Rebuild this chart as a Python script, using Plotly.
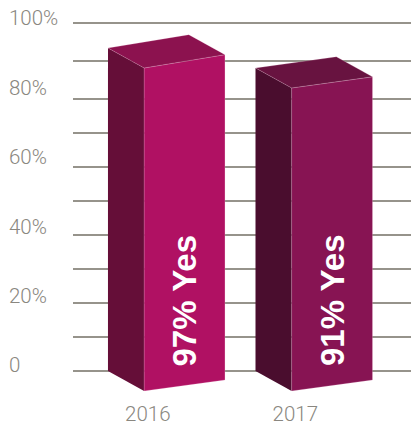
import plotly.graph_objects as go

# Survey results
years = ["2016", "2017"]
yes_share = [97, 91]
bar_labels = ["97% Yes", "91% Yes"]

# Value-axis labels and where they sit on the scale
axis_labels = ["0", "20%", "40%", "60%", "80%", "100%"]
axis_label_levels = [1.8, 22.5, 43.2, 64.2, 84.9, 105.9]

# Rule positions on the value scale
rule_levels = [0, 10.2, 20.4, 30.6, 40.8, 51.0, 61.2, 71.4, 81.6, 93.0, 104.5]

# Face colours per bar
front_colors = ["#b01163", "#871453"]
side_colors = ["#650e38", "#4a0d2e"]
top_colors = ["#8c124f", "#681340"]

GREY_TEXT = "#8a8780"
RULE = "#96938b"
EDGE = "rgba(255,215,235,0.35)"

# Box proportions, in axis units
DEPTH_X = 0.245
FRONT_W = 0.548
DEPTH_Y = 6.0
BASE_RISE = 3.3
TOP_RISE = [4.0, 3.35]


def face(xs, ys, color, edge=None):
    return go.Scatter(
        x=xs, y=ys, mode="lines", fill="toself", fillcolor=color,
        line=dict(color=edge or color, width=0.6 if edge else 0),
        hoverinfo="skip", showlegend=False,
    )


fig = go.Figure()
for i, value in enumerate(yes_share):
    left, near, right = i, i + DEPTH_X, i + DEPTH_X + FRONT_W
    rise = TOP_RISE[i]
    # side wall
    fig.add_trace(face(
        [left, near, near, left, left],
        [0, -DEPTH_Y, value - DEPTH_Y, value, 0],
        side_colors[i],
    ))
    # front wall
    fig.add_trace(face(
        [near, right, right, near, near],
        [-DEPTH_Y, -DEPTH_Y + BASE_RISE, value - DEPTH_Y + rise, value - DEPTH_Y, -DEPTH_Y],
        front_colors[i], EDGE,
    ))
    # lid
    fig.add_trace(face(
        [left, left + FRONT_W, right, near, left],
        [value, value + rise, value - DEPTH_Y + rise, value - DEPTH_Y, value],
        top_colors[i], EDGE,
    ))

annotations = [
    dict(
        x=i + 0.518, y=21.3, xref="x", yref="y", text=f"<b>{label}</b>",
        textangle=-90, showarrow=False, borderpad=0,
        font=dict(family="Liberation Sans", size=33, color="white"),
    )
    for i, label in enumerate(bar_labels)
]
annotations += [
    dict(
        x=-0.192, y=level, xref="paper", yref="y", text=label,
        xanchor="left", yanchor="middle", showarrow=False, borderpad=0,
        font=dict(family="Roboto", size=20.5, color=GREY_TEXT, weight=300),
    )
    for label, level in zip(axis_labels, axis_label_levels)
]

fig.update_layout(
    width=411, height=424, autosize=False,
    margin=dict(l=73, r=0, t=0, b=25, pad=0),
    paper_bgcolor="white", plot_bgcolor="white",
    showlegend=False, annotations=annotations,
    xaxis=dict(
        range=[-0.237, 2.054], showgrid=False, zeroline=False, showline=False,
        automargin=False,
        tickmode="array", tickvals=[0.27, 1.27], ticktext=years, ticks="",
        tickfont=dict(family="Roboto", size=20.5, color=GREY_TEXT, weight=300),
    ),
    yaxis=dict(
        range=[-8.4, 111.41], zeroline=False, showline=False, showticklabels=False,
        automargin=False,
        tickmode="array", tickvals=rule_levels, ticks="",
        showgrid=True, gridcolor=RULE, gridwidth=1.5,
    ),
)

fig.write_html("out.html")
